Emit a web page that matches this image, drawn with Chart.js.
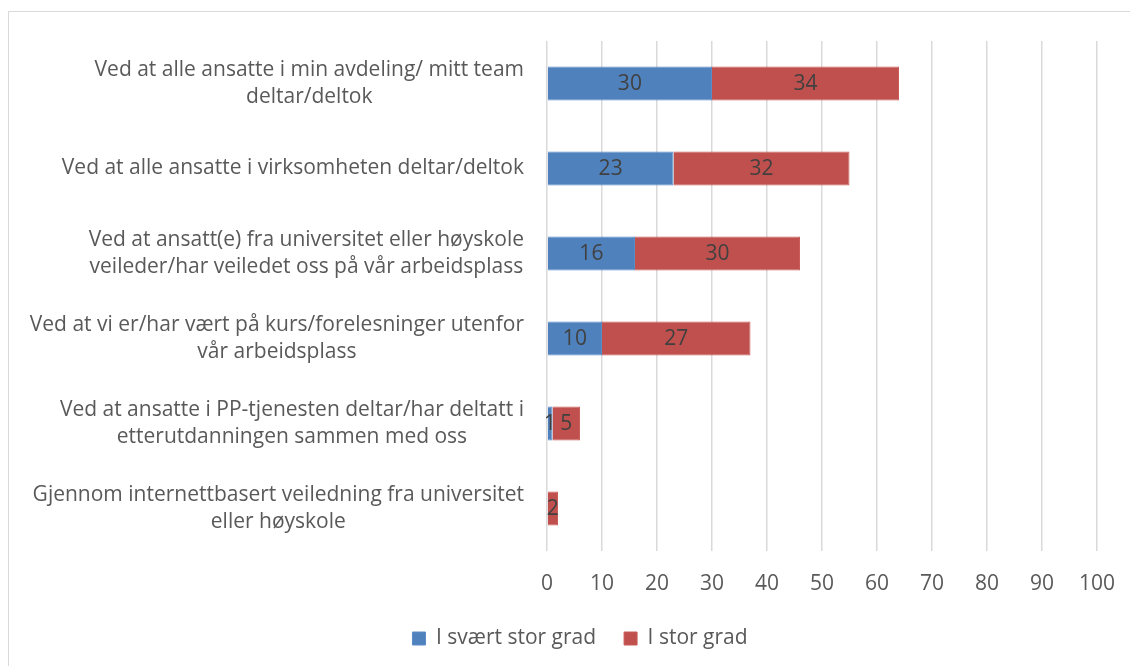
<!DOCTYPE html>
<html>
<head>
<meta charset="utf-8">
<script src="https://cdn.jsdelivr.net/npm/chart.js@4/dist/chart.umd.min.js"></script>
<style>
  html, body { margin: 0; padding: 0; background: #fff; }
  #wrap { position: relative; width: 1130px; height: 666px; }
  #frame { position: absolute; left: 8px; top: 11px; width: 1140px; height: 680px; border: 1px solid #d9d9d9; box-sizing: border-box; pointer-events: none; }
  canvas { position: absolute; left: 0; top: 0; }
</style>
</head>
<body>
<div id="wrap">
  <canvas id="chart" width="1130" height="666"></canvas>
  <div id="frame"></div>
</div>
<script>
const categories = [
    ['Ved at alle ansatte i min avdeling/ mitt team', 'deltar/deltok'],
    ['Ved at alle ansatte i virksomheten deltar/deltok'],
    ['Ved at ansatt(e) fra universitet eller høyskole', 'veileder/har veiledet oss på vår arbeidsplass'],
    ['Ved at vi er/har vært på kurs/forelesninger utenfor', 'vår arbeidsplass'],
    ['Ved at ansatte i PP-tjenesten deltar/har deltatt i', 'etterutdanningen sammen med oss'],
    ['Gjennom internettbasert veiledning fra universitet', 'eller høyskole']
];
const seriesNames = ['I svært stor grad', 'I stor grad'];
const veryHigh = [30, 23, 16, 10, 1, 0];
const high = [34, 32, 30, 27, 5, 2];
const xTicks = [0, 10, 20, 30, 40, 50, 60, 70, 80, 90, 100];

const FONT = '"Open Sans", Lato, sans-serif';
const FSIZE = 21;

// draws the value in the middle of each bar segment
const barLabels = {
    id: 'barLabels',
    afterDatasetsDraw(chart) {
        const ctx = chart.ctx;
        ctx.save();
        ctx.font = FSIZE + 'px ' + FONT;
        ctx.fillStyle = '#404040';
        ctx.textAlign = 'center';
        ctx.textBaseline = 'middle';
        chart.data.datasets.forEach((ds, i) => {
            chart.getDatasetMeta(i).data.forEach((bar, j) => {
                const v = ds.data[j];
                if (!v) return;
                ctx.fillText(String(v), (bar.x + bar.base) / 2, bar.y + 1);
            });
        });
        ctx.restore();
    }
};

// category labels: block right-aligned to the axis, lines centred inside the block
const catLabels = {
    id: 'catLabels',
    afterDraw(chart) {
        const ctx = chart.ctx;
        const y = chart.scales.y;
        const right = chart.chartArea.left - 23;
        ctx.save();
        ctx.font = FSIZE + 'px ' + FONT;
        ctx.fillStyle = '#595959';
        ctx.textAlign = 'center';
        ctx.textBaseline = 'middle';
        categories.forEach((lines, i) => {
            const w = Math.max(...lines.map(l => ctx.measureText(l).width));
            const cx = right - w / 2;
            const cy = y.getPixelForValue(i);
            lines.forEach((l, k) => {
                ctx.fillText(l, cx, cy + (k - (lines.length - 1) / 2) * 27);
            });
        });
        ctx.restore();
    }
};

new Chart(document.getElementById('chart'), {
    type: 'bar',
    data: {
        labels: categories.map(c => c.join(' ')),
        datasets: [
            { label: seriesNames[0], data: veryHigh, backgroundColor: '#4f81bd', borderColor: '#5b8cc6', borderWidth: 1, categoryPercentage: 1, barPercentage: 0.4 },
            { label: seriesNames[1], data: high, backgroundColor: '#c0504d', borderColor: '#c85c59', borderWidth: 1, categoryPercentage: 1, barPercentage: 0.4 }
        ]
    },
    options: {
        indexAxis: 'y',
        responsive: false,
        animation: false,
        layout: { padding: { left: 63, right: 33, top: 41, bottom: 16 } },
        scales: {
            x: {
                stacked: true,
                min: 0,
                max: 100,
                afterBuildTicks: s => { s.ticks = xTicks.map(v => ({ value: v })); },
                afterFit: s => { s.height = 49; s.paddingLeft = 0; s.paddingRight = 0; },
                grid: { color: '#d9d9d9', lineWidth: 1.5, drawTicks: false },
                border: { display: false },
                ticks: { color: '#595959', font: { family: FONT, size: FSIZE }, padding: 20 }
            },
            y: {
                stacked: true,
                afterFit: s => { s.width = 484; },
                grid: { display: false, drawTicks: false },
                border: { display: false },
                ticks: { display: false }
            }
        },
        plugins: {
            legend: {
                position: 'bottom',
                maxHeight: 50,
                labels: { color: '#595959', font: { family: FONT, size: FSIZE }, boxWidth: 13, boxHeight: 13, padding: 28 }
            },
            tooltip: { enabled: false }
        }
    },
    plugins: [barLabels, catLabels]
});
</script>
</body>
</html>
